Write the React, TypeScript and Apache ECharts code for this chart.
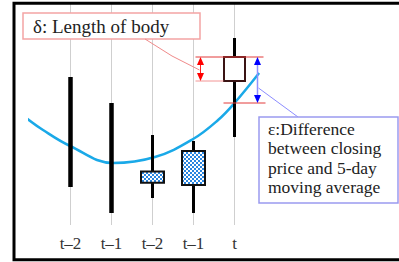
import React, { useEffect, useRef } from "react";
import * as echarts from "echarts";

// ---- data ----
const categories = ["t–2", "t–1", "t–2", "t–1", "t"];
const candleX = [1, 2, 3, 4, 5];
const highs = [86.5, 73.5, 57.5, 54.5, 106];
const lows = [31.5, 18.5, 26, 18.5, 56.5];
const opens = [null, null, 39.2, 49.5, 84.5];
const closes = [null, null, 33.6, 32.5, 96.5];
const candleKinds = ["range", "range", "down", "down", "up"];

const maX = [-0.11, 0.33, 0.99, 2.04, 3.06, 3.99, 4.6, 5, 5.6];
const maY = [66.5, 60, 52, 43.5, 46.5, 55.5, 65, 73.5, 88.5];

const deltaLabel = "δ: Length of body";
const epsLabel = ["ε:Difference", "between closing", "price and 5-day", "moving average"];

const SERIF = "'Liberation Serif', 'Times New Roman', serif";

function makePattern() {
  const c = document.createElement("canvas");
  c.width = 4;
  c.height = 4;
  const ctx = c.getContext("2d")!;
  ctx.fillStyle = "#2a86e0";
  ctx.fillRect(0, 0, 4, 4);
  ctx.fillStyle = "#ffffff";
  ctx.fillRect(0, 0, 2, 2);
  ctx.fillRect(2, 2, 2, 2);
  return { image: c.toDataURL(), repeat: "repeat", imageWidth: 4, imageHeight: 4 } as any;
}

export default function App() {
  const ref = useRef<HTMLDivElement>(null);
  useEffect(() => {
    if (!ref.current) return;
    const chart = echarts.init(ref.current, null, { renderer: "svg" });
    const pattern = makePattern();
    const option: any = {
      animation: false,
      grid: { left: 29.5, right: 123.5, top: 4, bottom: 37 },
      xAxis: {
        type: "value",
        min: 0,
        max: 6,
        interval: 1,
        axisLine: { show: false },
        axisTick: { show: false },
        splitLine: {
          show: true,
          showMinLine: false,
          showMaxLine: false,
          lineStyle: { color: "#cfcfcf", width: 1 },
        },
        axisLabel: {
          margin: 10,
          fontSize: 17,
          fontFamily: SERIF,
          color: "#333",
          formatter: (v: number) => (v >= 1 && v <= 5 ? categories[Math.round(v) - 1] : ""),
        },
      },
      yAxis: { type: "value", min: 12.5, max: 123, show: false },
      series: [
        {
          type: "custom",
          z: 4,
          data: candleX.map((x, i) => [x, lows[i], highs[i]]),
          renderItem: (params: any, api: any) => {
            const i = params.dataIndex;
            const x = api.value(0);
            const lo = api.coord([x, api.value(1)]);
            const hi = api.coord([x, api.value(2)]);
            const px = lo[0];
            const kind = candleKinds[i];
            if (kind === "range") {
              return {
                type: "rect",
                shape: { x: px - 2.25, y: hi[1], width: 4.5, height: lo[1] - hi[1] },
                style: { fill: "#000" },
              };
            }
            const po = api.coord([x, opens[i]]);
            const pc = api.coord([x, closes[i]]);
            const w = kind === "up" ? 21 : 23;
            const top = Math.min(po[1], pc[1]);
            const h = Math.abs(po[1] - pc[1]);
            return {
              type: "group",
              children: [
                {
                  type: "line",
                  shape: { x1: px, y1: hi[1], x2: px, y2: lo[1] },
                  style: { stroke: "#000", lineWidth: 3 },
                },
                {
                  type: "rect",
                  shape: { x: px - w / 2, y: top, width: w, height: h },
                  style: {
                    fill: kind === "up" ? "#ffffff" : pattern,
                    stroke: kind === "up" ? "#3a1414" : "#111",
                    lineWidth: 2,
                  },
                },
              ],
            };
          },
        },
        {
          type: "line",
          z: 3,
          data: maX.map((x, i) => [x, maY[i]]),
          smooth: 0.4,
          symbol: "none",
          clip: false,
          lineStyle: { color: "#1aa9e8", width: 2.5 },
        },
      ],
    };
    chart.setOption(option);

    const t = 4;
    const [cx, yClose] = chart.convertToPixel({ gridIndex: 0 }, [candleX[t], closes[t] as number]);
    const yOpen = chart.convertToPixel({ gridIndex: 0 }, [candleX[t], opens[t] as number])[1];
    const yMA = chart.convertToPixel({ gridIndex: 0 }, [maX[7], maY[7]])[1];
    const redX = cx - 34;
    const blueX = cx + 23;
    const head = (xc: number, tipY: number, dir: number, color: string) => ({
      type: "polygon",
      z: 20,
      shape: { points: [[xc, tipY], [xc - 3.5, tipY + dir * 8], [xc + 3.5, tipY + dir * 8]] },
      style: { fill: color },
    });

    chart.setOption({
      graphic: [
        {
          type: "rect",
          z: 0,
          shape: { x: 14, y: 3.2, width: 400, height: 256.5 },
          style: { fill: "none", stroke: "#000", lineWidth: 3 },
        },
        // delta box
        {
          type: "rect",
          z: 10,
          shape: { x: 23, y: 13, width: 177, height: 26 },
          style: { fill: "#fff", stroke: "#f4a4a4", lineWidth: 1.5 },
        },
        {
          type: "text",
          z: 11,
          x: 33,
          y: 26.5,
          style: { text: deltaLabel, font: `19px ${SERIF}`, fill: "#222", verticalAlign: "middle" },
        },
        {
          type: "polyline",
          z: 10,
          shape: { points: [[145, 39], [172, 56], [redX - 1, yClose + 13]] },
          style: { stroke: "#f08a8a", lineWidth: 1, fill: "none" },
        },
        // red lines
        {
          type: "line",
          z: 10,
          shape: { x1: cx - 39, y1: yClose, x2: cx + 29, y2: yClose },
          style: { stroke: "#e23a3a", lineWidth: 1 },
        },
        {
          type: "line",
          z: 10,
          shape: { x1: cx - 39, y1: yOpen, x2: cx - 11, y2: yOpen },
          style: { stroke: "#f29494", lineWidth: 1 },
        },
        {
          type: "line",
          z: 10,
          shape: { x1: cx - 11, y1: yMA, x2: cx + 31, y2: yMA },
          style: { stroke: "#e23a3a", lineWidth: 1 },
        },
        // red arrow
        {
          type: "line",
          z: 10,
          shape: { x1: redX, y1: yClose + 4, x2: redX, y2: yOpen - 4 },
          style: { stroke: "#ff2020", lineWidth: 1 },
        },
        head(redX, yClose, 1, "#ff0000"),
        head(redX, yOpen, -1, "#ff0000"),
        // blue arrow
        {
          type: "line",
          z: 10,
          shape: { x1: blueX, y1: yClose + 4, x2: blueX, y2: yMA - 4 },
          style: { stroke: "#9090ff", lineWidth: 1.5 },
        },
        head(blueX, yClose, 1, "#0000ff"),
        head(blueX, yMA, -1, "#0000ff"),
        {
          type: "line",
          z: 10,
          shape: { x1: blueX + 1, y1: (yClose + yMA) / 2 + 8, x2: 298, y2: 117 },
          style: { stroke: "#8c8cff", lineWidth: 1 },
        },
        // epsilon box
        {
          type: "rect",
          z: 10,
          shape: { x: 259, y: 117, width: 139, height: 86 },
          style: { fill: "#fff", stroke: "#9a9af0", lineWidth: 1.5 },
        },
        {
          type: "text",
          z: 11,
          x: 268,
          y: 119,
          style: {
            text: epsLabel.join("\n"),
            font: `17.5px ${SERIF}`,
            lineHeight: 19.5,
            fill: "#222",
            verticalAlign: "top",
          },
        },
      ],
    });
    return () => chart.dispose();
  }, []);
  return (
    <div
      ref={ref}
      style={{ position: "absolute", left: 0, top: 0, width: 399, height: 262, background: "#fff" }}
    />
  );
}
